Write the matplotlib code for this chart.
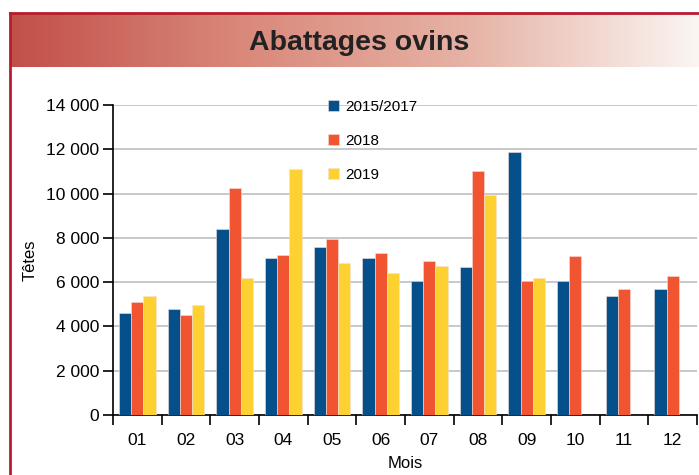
import numpy as np
import matplotlib.pyplot as plt
from matplotlib.colors import LinearSegmentedColormap
from matplotlib.ticker import FuncFormatter

plt.rcParams['font.family'] = ['Liberation Sans', 'DejaVu Sans']

months = ['01', '02', '03', '04', '05', '06', '07', '08', '09', '10', '11', '12']
series = ['2015/2017', '2018', '2019']
v_1517 = [4600, 4800, 8400, 7090, 7590, 7090, 6050, 6670, 11860, 6050, 5360, 5690]
v_2018 = [5100, 4520, 10250, 7230, 7950, 7320, 6940, 11020, 6050, 7170, 5690, 6280]
v_2019 = [5370, 4970, 6190, 11110, 6870, 6410, 6730, 9920, 6190]
colors = ['#054f8b', '#f15430', '#fed133']

W, H = 699, 475
fig = plt.figure(figsize=(W / 100, H / 100), dpi=100)

# title band with gradient
tax = fig.add_axes([11 / W, 1 - 67 / H, 1 - 11 / W, 54 / H])
cmap = LinearSegmentedColormap.from_list('band', ['#c2504a', '#d9887a', '#e6b3a6', '#fbf5f2'])
tax.imshow(np.linspace(0, 1, 256)[None, :], aspect='auto', cmap=cmap, extent=[0, 1, 0, 1])
tax.set_axis_off()
fig.text(359 / W, 1 - 43 / H, 'Abattages ovins', ha='center', va='center',
         fontsize=20.5, fontweight='bold', color='#222222')

# frame lines
fig.add_artist(plt.Line2D([10 / W, 10 / W], [0, 1 - 13 / H], color='#b81c2e', lw=2))
fig.add_artist(plt.Line2D([10 / W, 1], [1 - 13 / H, 1 - 13 / H], color='#b81c2e', lw=2))

ax = fig.add_axes([113 / W, 1 - 415 / H, (697 - 113) / W, (415 - 105) / H])
x = np.arange(len(months))
bw = 0.25
for i, (vals, lab) in enumerate(zip([v_1517, v_2018, v_2019], series)):
    xs = x[:len(vals)] + (i - 1) * bw
    ax.bar(xs, vals, width=bw, color=colors[i], edgecolor='#f4e0d8', linewidth=0.4,
           label=lab, zorder=3)

ax.set_xlim(-0.5, 11.5)
ax.set_ylim(0, 14000)
ax.set_yticks(np.arange(0, 14001, 2000))
ax.yaxis.set_major_formatter(FuncFormatter(lambda v, p: f'{int(v):,}'.replace(',', ' ')))
ax.set_xticks(x)
ax.set_xticklabels(months)
ax.set_xticks(np.arange(-0.5, 12, 1), minor=True)
ax.tick_params(axis='x', which='major', length=0, labelsize=12.5, pad=13)
ax.tick_params(axis='x', which='minor', length=7, width=1.2, direction='out')
ax.tick_params(axis='y', length=7, width=1.2, labelsize=12.5, pad=3)
ax.grid(axis='y', color='#bcc0c0', lw=1.2, zorder=0)
for s in ['top', 'right']:
    ax.spines[s].set_visible(False)
for s in ['left', 'bottom']:
    ax.spines[s].set_linewidth(1.2)
ax.set_xlabel('Mois', fontsize=12, labelpad=6)
ax.set_ylabel('Têtes', fontsize=12, labelpad=6)

leg = ax.legend(loc='upper left', bbox_to_anchor=(0.345, 1.06), frameon=False,
                fontsize=11, handlelength=0.7, handleheight=0.7, handletextpad=0.4,
                labelspacing=1.3)

fig.savefig('out.png', dpi=100)
